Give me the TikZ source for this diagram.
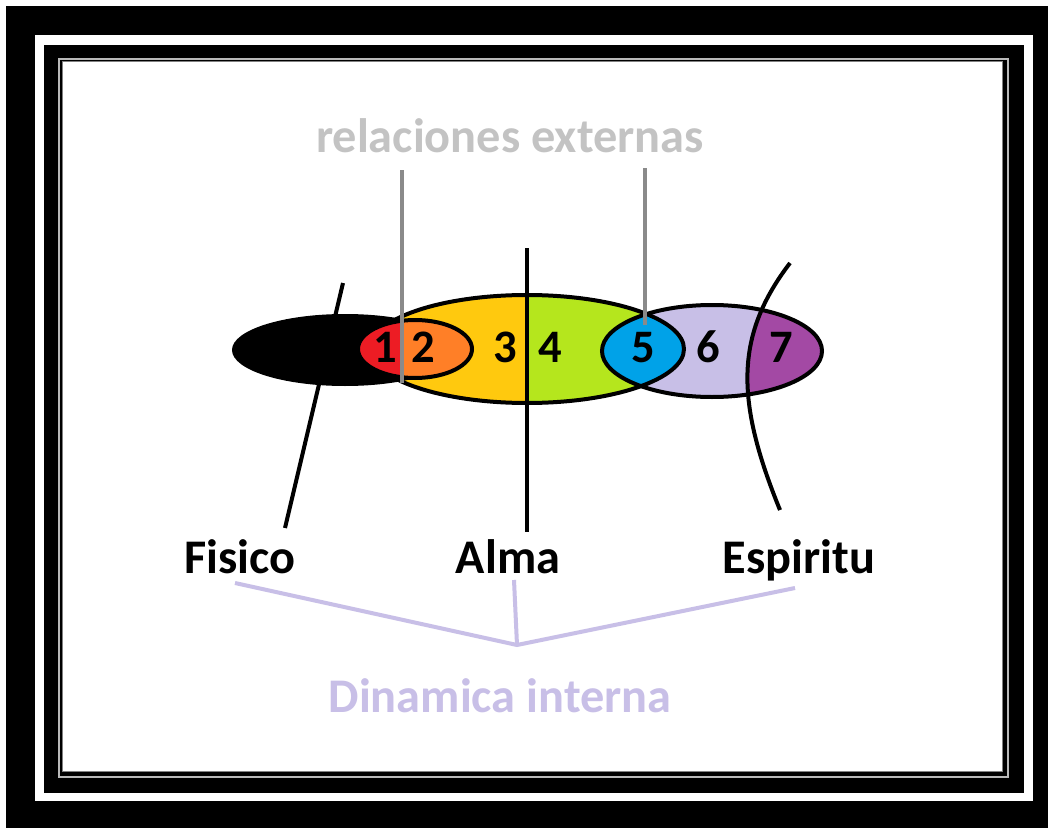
\documentclass[tikz,border=0pt]{standalone}
\usepackage{fontspec}
\setmainfont{Carlito}
\definecolor{paintred}{HTML}{ED1C24}
\definecolor{paintorange}{HTML}{FF7F27}
\definecolor{paintyellow}{HTML}{FFC90E}
\definecolor{paintgreen}{HTML}{B5E61D}
\definecolor{paintblue}{HTML}{00A2E8}
\definecolor{paintlav}{HTML}{C8BFE7}
\definecolor{paintpurple}{HTML}{A349A4}
\definecolor{textgray}{HTML}{C3C3C3}
\definecolor{linegray}{HTML}{8A8A8A}
\begin{document}
\begin{tikzpicture}[x=0.02cm, y=-0.02cm,
    outline/.style={draw=black, line width=0.08cm},
    grayline/.style={draw=linegray, line width=0.08cm},
    lavline/.style={draw=paintlav, line width=0.08cm},
    bigtext/.style={font=\fontsize{27.5}{32}\selectfont\bfseries, anchor=base, inner sep=0pt},
    digit/.style={font=\fontsize{26.5}{32}\selectfont\bfseries, anchor=base, inner sep=0pt}]

% 1. Frame
\useasboundingbox (0,0) rectangle (1048,828);
\fill[white] (0,0) rectangle (1048,828);
\fill[black] (6,6) rectangle (1048,828);
\fill[white] (35,35) rectangle (1033,801);
\fill[black] (44,45) rectangle (1024,793);
\draw[gray!55, line width=0.05cm] (59,59) rectangle (1008,777);
\draw[gray, line width=0.02cm, fill=white] (62,62) rectangle (1002,771);

% 2. Alma (big ellipse, yellow | green)
\begin{scope}
    \clip (527,349) ellipse [x radius=157, y radius=54];
    \fill[paintyellow] (360,290) rectangle (527,410);
    \fill[paintgreen] (527,290) rectangle (690,410);
\end{scope}

% 3. Espiritu (lavender | purple) and the blue lens
\coordinate (cuttop) at (790,263);
\coordinate (cutbot) at (780,510);
\begin{scope}
    \clip (712,351) ellipse [x radius=110, y radius=46];
    \fill[paintlav] (600,300) rectangle (825,400);
    \fill[paintpurple] (cuttop) .. controls (735,335) and (735,400) .. (cutbot) -- (900,510) -- (900,263) -- cycle;
    \clip (527,349) ellipse [x radius=157, y radius=54];
    \fill[paintblue] (600,300) rectangle (690,400);
\end{scope}
\draw[outline] (527,349) ellipse [x radius=157, y radius=54];
\draw[outline] (712,351) ellipse [x radius=110, y radius=46];

% 4. Fisico (black ellipse)
\fill[black] (345,350) ellipse [x radius=113, y radius=36];

% 5. Small ellipse (red | orange)
\begin{scope}
    \clip (415,349) ellipse [x radius=57, y radius=29];
    \fill[paintred] (350,310) rectangle (401,390);
    \fill[paintorange] (401,310) rectangle (480,390);
\end{scope}
\draw[outline] (415,349) ellipse [x radius=57, y radius=29];

% 6. Numbers
\node[digit] (n1) at (385,362) {1};
\node[digit] (n2) at (423,362) {2};
\node[digit] (n3) at (505,362) {3};
\node[digit] (n4) at (550,362) {4};
\node[digit] (n5) at (643,362) {5};
\node[digit] (n6) at (708,362) {6};
\node[digit] (n7) at (781,362) {7};

% 7. Labels
\node[bigtext, textgray] (relext) at (510,153) {relaciones externas};
\node[bigtext] (fisico) at (240,573) {Fisico};
\node[bigtext] (alma) at (508,573) {Alma};
\node[bigtext] (espiritu) at (799,573) {Espiritu};
\node[bigtext, paintlav] (dinamica) at (500,712) {Dinamica interna};

% 8. Pointer lines
\coordinate (fistop) at (343,283);
\coordinate (fisbot) at (285,528);
\coordinate (almtop) at (527,248);
\coordinate (almbot) at (527,532);
\draw[outline] (cuttop) .. controls (735,335) and (735,400) .. (cutbot);
\draw[outline] (fistop) -- (fisbot);
\draw[outline] (almtop) -- (almbot);

\coordinate (rel1top) at (402,170);
\coordinate (rel1bot) at (402,383);
\coordinate (rel2top) at (645,168);
\coordinate (rel2bot) at (645,325);
\draw[grayline] (rel1top) -- (rel1bot);
\draw[grayline] (rel2top) -- (rel2bot);

\coordinate (join) at (517,645);
\coordinate (fisfoot) at (235,583);
\coordinate (almfoot) at (514,580);
\coordinate (espfoot) at (795,588);
\draw[lavline] (fisfoot) -- (join) -- (espfoot);
\draw[lavline] (almfoot) -- (join);

\end{tikzpicture}
\end{document}
